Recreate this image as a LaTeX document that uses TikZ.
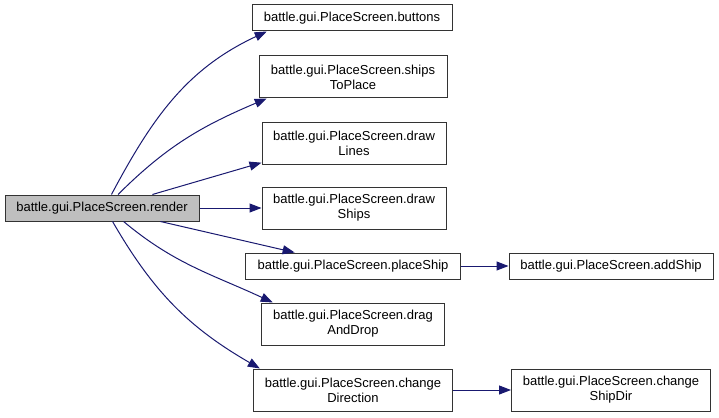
\documentclass[tikz,border=0pt]{standalone}
\usepackage{fontspec}
\setmainfont{Liberation Sans}
\usetikzlibrary{arrows.meta}
\definecolor{edgeblue}{HTML}{191970}
\definecolor{framegray}{HTML}{333333}
\definecolor{rootgray}{HTML}{BFBFBF}
\begin{document}
\begin{tikzpicture}[x=1pt,y=-1pt,
  fn/.style={draw=framegray,line width=1pt,fill=white,inner sep=0pt,align=center,
    minimum height=26,font=\fontsize{13}{15}\selectfont},
  fntwo/.style={fn,minimum height=42},
  call/.style={draw=edgeblue,line width=1pt,-{Triangle[length=12pt,width=9pt]}}]
\useasboundingbox (0,0) rectangle (719,417);
\node[fn,fill=rootgray,minimum width=194] (render) at (102,208) {battle.gui.PlaceScreen.render};
\node[fn,minimum width=200] (buttons) at (352,18) {battle.gui.PlaceScreen.buttons};
\node[fntwo,minimum width=188] (shipsToPlace) at (353,77) {battle.gui.PlaceScreen.ships\\ToPlace};
\node[fntwo,minimum width=184] (drawLines) at (354,143) {battle.gui.PlaceScreen.draw\\Lines};
\node[fntwo,minimum width=184] (drawShips) at (354,208) {battle.gui.PlaceScreen.draw\\Ships};
\node[fn,minimum width=215] (placeShip) at (353,266) {battle.gui.PlaceScreen.placeShip};
\node[fn,minimum width=204] (addShip) at (611,266) {battle.gui.PlaceScreen.addShip};
\node[fntwo,minimum width=183] (dragAndDrop) at (353,324) {battle.gui.PlaceScreen.drag\\AndDrop};
\node[fntwo,minimum width=199] (changeDirection) at (353,390) {battle.gui.PlaceScreen.change\\Direction};
\node[fntwo,minimum width=199] (changeShipDir) at (611,390) {battle.gui.PlaceScreen.change\\ShipDir};
% calls out of render
\draw[call] (render.55) to[out=62,in=205] (buttons.189);
\draw[call] (render.40) to[out=45,in=203] (shipsToPlace.194);
\draw[call] (render.15) -- (drawLines.192);
\draw[call] (render) -- (drawShips);
\draw[call] (render) -- (placeShip);
\draw[call] (render.-32) to[out=-40,in=155] (dragAndDrop.165);
\draw[call] (render.-52) to[out=-60,in=150] (changeDirection.167);
% second level
\draw[call] (placeShip) -- (addShip);
\draw[call] (changeDirection) -- (changeShipDir);
\end{tikzpicture}
\end{document}
